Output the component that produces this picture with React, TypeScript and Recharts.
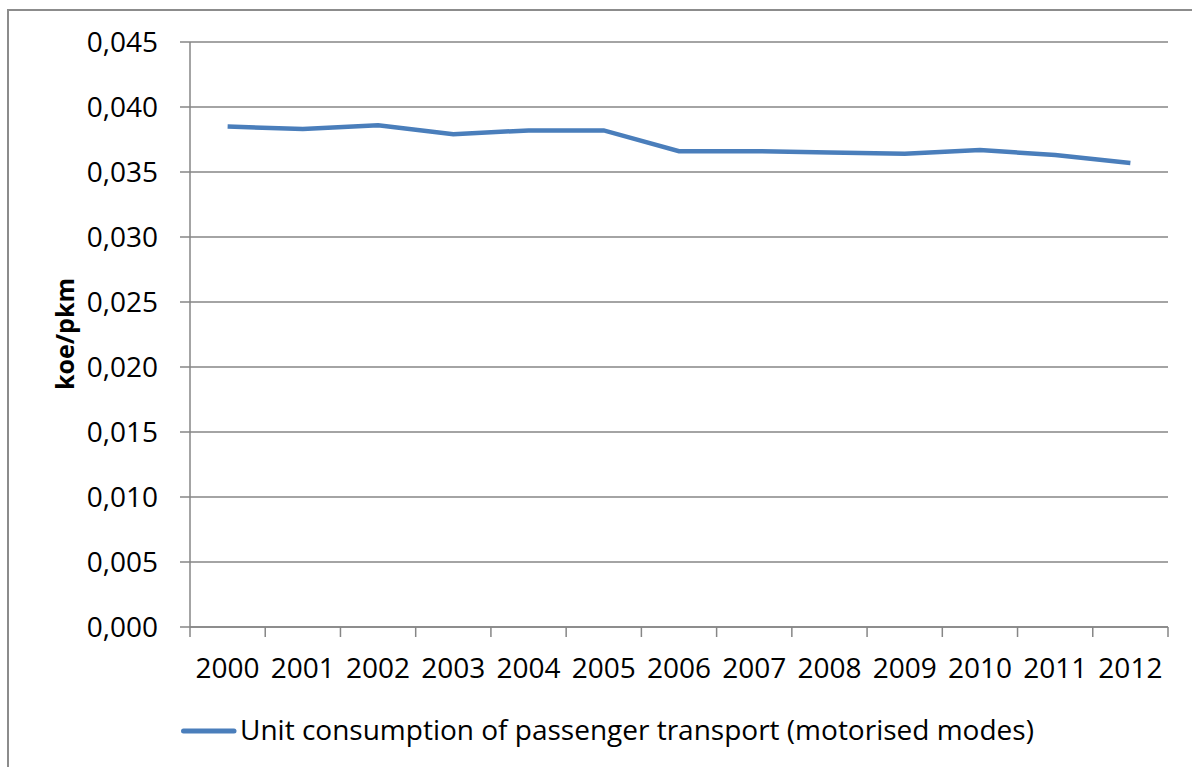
import React from 'react';
import { LineChart, Line, XAxis, YAxis, CartesianGrid } from 'recharts';

const years = ['2000', '2001', '2002', '2003', '2004', '2005', '2006', '2007', '2008', '2009', '2010', '2011', '2012'];
const unitConsumption = [0.0385, 0.0383, 0.0386, 0.0379, 0.0382, 0.0382, 0.0366, 0.0366, 0.0365, 0.0364, 0.0367, 0.0363, 0.0357];
const yTicks = [0, 0.005, 0.01, 0.015, 0.02, 0.025, 0.03, 0.035, 0.04, 0.045];
const seriesName = 'Unit consumption of passenger transport (motorised modes)';
const yLabel = 'koe/pkm';

const data = years.map((y, i) => ({ year: y, value: unitConsumption[i] }));

const W = 1192;
const H = 767;
const PLOT_LEFT = 190;
const PLOT_RIGHT = 1168;
const PLOT_TOP = 42;
const PLOT_BOTTOM = 627;
const PLOT_W = PLOT_RIGHT - PLOT_LEFT;
const BAND = PLOT_W / years.length;
const FONT = '"Open Sans", sans-serif';
const GRID = '#868686';
const BLUE = '#4a7ebb';

const XTick = (props: any) => {
  const { x, payload, index } = props;
  const left = x - BAND / 2;
  return (
    <g>
      <line x1={left} y1={PLOT_BOTTOM} x2={left} y2={PLOT_BOTTOM + 10} stroke={GRID} strokeWidth={1.5} />
      {index === years.length - 1 && (
        <line x1={x + BAND / 2} y1={PLOT_BOTTOM} x2={x + BAND / 2} y2={PLOT_BOTTOM + 10} stroke={GRID} strokeWidth={1.5} />
      )}
      <text x={x} y={PLOT_BOTTOM + 51} textAnchor="middle" fontFamily={FONT} fontSize={28} fill="#000">
        {payload.value}
      </text>
    </g>
  );
};

const YTick = (props: any) => {
  const { y, payload } = props;
  return (
    <text x={158} y={y + 10} textAnchor="end" fontFamily={FONT} fontSize={28} fill="#000">
      {Number(payload.value).toFixed(3).replace('.', ',')}
    </text>
  );
};

const YLabel = () => (
  <text
    x={64}
    y={334}
    transform="rotate(-90, 64, 334)"
    textAnchor="middle"
    dominantBaseline="central"
    fontFamily={FONT}
    fontSize={25}
    fontWeight={700}
    fill="#000"
  >
    {yLabel}
  </text>
);

export default function App() {
  return (
    <div style={{ position: 'absolute', left: 0, top: 0, width: W, height: H, background: '#fff', overflow: 'hidden' }}>
      <div style={{ position: 'absolute', left: 7, top: 9, width: W, height: H, borderLeft: '2px solid #8c8c8c', borderTop: '2px solid #8c8c8c' }} />
      <LineChart
        width={W}
        height={H}
        data={data}
        margin={{ top: PLOT_TOP, right: W - PLOT_RIGHT, bottom: 0, left: 0 }}
        style={{ position: 'absolute', left: 0, top: 0 }}
      >
        <CartesianGrid vertical={false} stroke={GRID} strokeWidth={1.5} />
        <XAxis
          dataKey="year"
          scale="band"
          height={H - PLOT_BOTTOM}
          axisLine={{ stroke: GRID, strokeWidth: 1.5 }}
          tickLine={false}
          tick={<XTick />}
          interval={0}
        />
        <YAxis
          domain={[0, 0.045]}
          ticks={yTicks}
          width={PLOT_LEFT}
          axisLine={{ stroke: GRID, strokeWidth: 1.5 }}
          tickLine={{ stroke: GRID, strokeWidth: 1.5 }}
          tickSize={10}
          tick={<YTick />}
          interval={0}
          label={<YLabel />}
        />
        <Line
          type="linear"
          dataKey="value"
          name={seriesName}
          stroke={BLUE}
          strokeWidth={4.5}
          dot={false}
          activeDot={false}
          isAnimationActive={false}
        />
      </LineChart>
      <svg width={W} height={60} style={{ position: 'absolute', left: 0, top: 705 }}>
        <line x1={183.5} y1={26} x2={234} y2={26} stroke={BLUE} strokeWidth={5} strokeLinecap="round" />
        <text x={240} y={35} fontFamily={FONT} fontSize={28} fill="#000">{seriesName}</text>
      </svg>
    </div>
  );
}
